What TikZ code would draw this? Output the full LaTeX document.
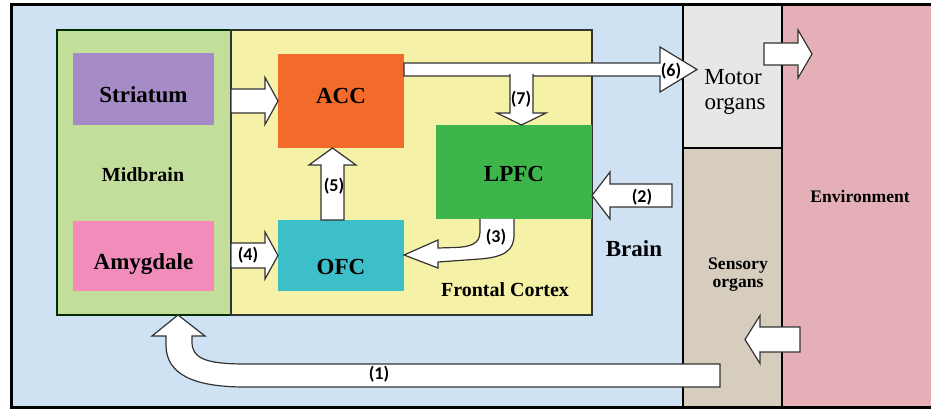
\documentclass[tikz,border=0pt]{standalone}
\usepackage{fontspec}
\setmainfont{Liberation Serif}
\newfontfamily\labfont{Carlito}
\definecolor{brainc}{HTML}{CFE2F3}
\definecolor{midc}{HTML}{C3DE9B}
\definecolor{frontc}{HTML}{F5F1A6}
\definecolor{motorc}{HTML}{E7E8E6}
\definecolor{sensc}{HTML}{D6CDBF}
\definecolor{envc}{HTML}{E4AFB6}
\definecolor{stric}{HTML}{A68CC6}
\definecolor{amyc}{HTML}{F28DBB}
\definecolor{accc}{HTML}{F36B2B}
\definecolor{ofcc}{HTML}{3CBFC9}
\definecolor{lpfcc}{HTML}{3DB54B}
\tikzset{
  box/.style={draw=none,inner sep=0pt},
  blk/.style={fill=white,draw=black!80,line width=1.2pt,line join=miter},
  bigtxt/.style={font=\bfseries\fontsize{23}{23}\selectfont,anchor=base,inner sep=0pt},
  midtxt/.style={font=\bfseries\fontsize{20}{20}\selectfont,anchor=base,inner sep=0pt},
  smtxt/.style={font=\bfseries\fontsize{17.6}{17.6}\selectfont,anchor=base,inner sep=0pt},
  regtxt/.style={font=\fontsize{23}{23}\selectfont,anchor=base,inner sep=0pt},
  lab/.style={font=\labfont\bfseries\fontsize{18}{18}\selectfont,inner sep=0pt},
}
% horizontal block arrow: x1, x2 (tip), y centre, shaft half, head half, head length
\newcommand\hblock[6]{%
  \pgfmathsetmacro\hbdir{(#2>#1)?1:-1}%
  \pgfmathsetmacro\hbbase{#2-\hbdir*#6}%
  \filldraw[blk] (#1,#3-#4) -- (\hbbase,#3-#4) -- (\hbbase,#3-#5) -- (#2,#3)
     -- (\hbbase,#3+#5) -- (\hbbase,#3+#4) -- (#1,#3+#4) -- cycle;}
% vertical block arrow: y1, y2 (tip), x centre, shaft half, head half, head length
\newcommand\vblock[6]{%
  \pgfmathsetmacro\vbdir{(#2>#1)?1:-1}%
  \pgfmathsetmacro\vbbase{#2-\vbdir*#6}%
  \filldraw[blk] (#3-#4,#1) -- (#3-#4,\vbbase) -- (#3-#5,\vbbase) -- (#3,#2)
     -- (#3+#5,\vbbase) -- (#3+#4,\vbbase) -- (#3+#4,#1) -- cycle;}
\begin{document}
\begin{tikzpicture}[x=1pt,y=-1pt]
\useasboundingbox (0,0) rectangle (931,411);
% regions
\fill[brainc] (11,5) rectangle (683,407);
\fill[motorc] (683,5) rectangle (782,148);
\fill[sensc] (683,148) rectangle (782,407);
\fill[envc] (782,5) rectangle (935,407);
\draw[line width=2.5pt] (683,5) -- (683,407);
\draw[line width=2.5pt] (782,5) -- (782,407);
\draw[line width=2.5pt] (683,148) -- (782,148);
\draw[line width=3pt] (935,5) -- (11,5) -- (11,407) -- (935,407);
% midbrain and frontal cortex
\node[box,fill=midc,draw=black!70!green!60!black,line width=1.2pt,minimum width=174pt,minimum height=285pt] (midbrain) at (144,172.5) {};
\node[box,fill=frontc,draw=black!80,line width=1.2pt,minimum width=361pt,minimum height=285pt] (frontal) at (411.5,172.5) {};
% inner boxes
\node[box,fill=stric,minimum width=141pt,minimum height=72pt] (striatum) at (143.5,89) {};
\node[box,fill=amyc,minimum width=141pt,minimum height=70pt] (amygdale) at (143.5,256) {};
\node[box,fill=accc,minimum width=126pt,minimum height=94pt] (acc) at (341,101) {};
\node[box,fill=ofcc,minimum width=126pt,minimum height=71pt] (ofc) at (341,255.5) {};
\node[box,fill=lpfcc,minimum width=156pt,minimum height=94pt] (lpfc) at (514,172) {};
% block arrows
\hblock{231}{278}{101}{12}{23.5}{13}
\hblock{231}{278}{255.5}{12.5}{23.5}{13}
\hblock{404}{697}{69.5}{6.5}{22.5}{37}
\filldraw[blk] (510,74) -- (510,113) -- (497,113) -- (521.5,125) -- (546,113) -- (533,113) -- (533,74);
\vblock{220}{148}{332.5}{11.5}{23.5}{17}
\hblock{672}{592}{195.5}{11.5}{23.5}{18}
\hblock{764}{812}{54}{11}{24}{14}
\hblock{800}{745}{339.5}{12.5}{24}{15}
% (3) bent arrow
\filldraw[blk] (480,219) -- (480,232) .. controls (480,244) and (470,247) .. (455,247.5)
  -- (438,248) -- (438,240) -- (404,255) -- (438,268) -- (438,262) -- (480,259)
  .. controls (505,257) and (514,250) .. (514,235) -- (514,219);
% (1) bent arrow
\filldraw[blk] (720,364) -- (245,364) .. controls (205,364) and (192,358) .. (192,342)
  -- (192,336) -- (205,336) -- (178,315) -- (152,336) -- (166,336) -- (166,345)
  .. controls (166,375) and (195,387) .. (245,387) -- (720,387) -- cycle;
% texts
\node[bigtxt] (tstri) at (143.5,103) {Striatum};
\node[midtxt] (tmid) at (143,182) {Midbrain};
\node[bigtxt] (tamy) at (143.5,270) {Amygdale};
\node[bigtxt] (tacc) at (341,104) {ACC};
\node[bigtxt] (tofc) at (341,275) {OFC};
\node[bigtxt] (tlpfc) at (514,182) {LPFC};
\node[midtxt] (tfront) at (505,297) {Frontal Cortex};
\node[bigtxt] (tbrain) at (634,257) {Brain};
\node[regtxt] (tmotor1) at (733,85) {Motor};
\node[regtxt] (tmotor2) at (735,110) {organs};
\node[smtxt] (tsens1) at (738,270) {Sensory};
\node[smtxt] (tsens2) at (738,288) {organs};
\node[smtxt] (tenv) at (860,203) {Environment};
% labels
\node[lab] (l1) at (379,374) {(1)};
\node[lab] (l2) at (642,197) {(2)};
\node[lab] (l3) at (496,237) {(3)};
\node[lab] (l4) at (248,255) {(4)};
\node[lab] (l5) at (334,186) {(5)};
\node[lab] (l6) at (671,71) {(6)};
\node[lab] (l7) at (521,99) {(7)};
\end{tikzpicture}
\end{document}
